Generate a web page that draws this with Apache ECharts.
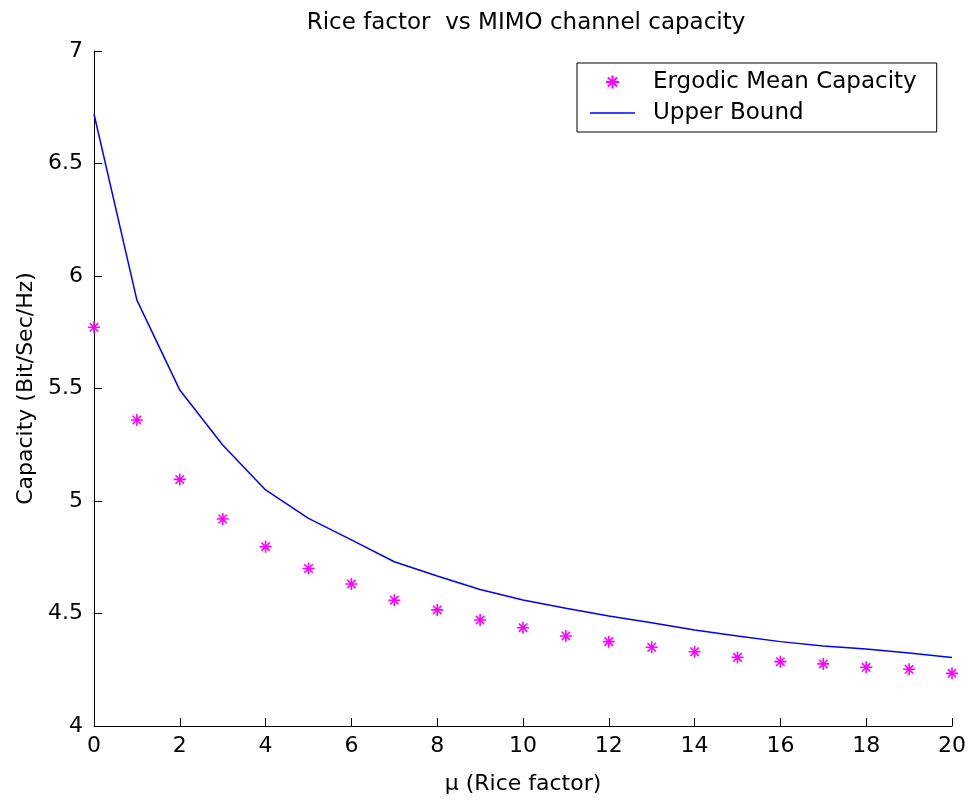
<!DOCTYPE html>
<html>
<head>
<meta charset="utf-8">
<script src="https://cdn.jsdelivr.net/npm/echarts@6/dist/echarts.min.js"></script>
<style>
html,body{margin:0;padding:0;background:#fff;}
#chart{width:970px;height:802px;}
</style>
</head>
<body>
<div id="chart"></div>
<script>
var riceFactor = [0,1,2,3,4,5,6,7,8,9,10,11,12,13,14,15,16,17,18,19,20];
var ergodicMean = [5.772,5.360,5.096,4.920,4.797,4.700,4.631,4.559,4.516,4.471,4.437,4.400,4.375,4.350,4.330,4.305,4.286,4.276,4.261,4.252,4.234];
var upperBound = [6.72,5.893,5.493,5.249,5.049,4.923,4.827,4.730,4.667,4.607,4.560,4.523,4.489,4.459,4.427,4.400,4.375,4.356,4.342,4.324,4.304];
var yTickLabels = ['4','4.5','5','5.5','6','6.5','7'];
var xTickLabels = ['0','2','4','6','8','10','12','14','16','18','20'];

var FONT = 'DejaVu Sans';
var star = 'path://M0,5 L10,5 M5,0 L5,10 M1.5,1.5 L8.5,8.5 M8.5,1.5 L1.5,8.5';
var lineIcon = 'path://M0,0 L45,0 L45,1.5 L0,1.5 Z';

var chart = echarts.init(document.getElementById('chart'), null, {renderer:'canvas'});
chart.setOption({
  animation: false,
  backgroundColor: '#ffffff',
  textStyle: {fontFamily: FONT, color: '#000'},
  title: {
    text: 'Rice factor  vs MIMO channel capacity',
    left: 521, textAlign: 'center', top: 7,
    textStyle: {fontFamily: FONT, fontSize: 23, fontWeight: 'normal', color: '#000'}
  },
  grid: {left: 94, right: 18, top: 51, bottom: 76, containLabel: false},
  legend: {
    orient: 'vertical',
    left: 577, top: 63,
    backgroundColor: '#fff',
    borderColor: '#000', borderWidth: 1,
    padding: [6, 20, 6, 13],
    itemGap: 5,
    itemWidth: 45, itemHeight: 13,
    symbolKeepAspect: true,
    textStyle: {fontFamily: FONT, fontSize: 23, color: '#000', lineHeight: 26, padding: [0,0,0,13]},
    data: [
      {name: 'Ergodic Mean Capacity', icon: star},
      {name: 'Upper Bound', icon: lineIcon}
    ]
  },
  xAxis: {
    type: 'value', min: 0, max: 20, interval: 2,
    name: 'μ (Rice factor)', nameLocation: 'middle', nameGap: 47,
    nameTextStyle: {fontFamily: FONT, fontSize: 22, color: '#000'},
    axisLine: {show: true, onZero: false, lineStyle: {color: '#000', width: 1}},
    axisTick: {show: true, inside: true, length: 8, lineStyle: {color: '#000'}},
    axisLabel: {fontFamily: FONT, fontSize: 22, color: '#000', margin: 9,
      formatter: function(v){ var i = Math.round(v/2); return xTickLabels[i]; }},
    splitLine: {show: false}
  },
  yAxis: {
    type: 'value', min: 4, max: 7, interval: 0.5,
    name: 'Capacity (Bit/Sec/Hz)', nameLocation: 'middle', nameGap: 56,
    nameTextStyle: {fontFamily: FONT, fontSize: 22, color: '#000'},
    axisLine: {show: true, onZero: false, lineStyle: {color: '#000', width: 1}},
    axisTick: {show: true, inside: true, length: 8, lineStyle: {color: '#000'}},
    axisLabel: {fontFamily: FONT, fontSize: 22, color: '#000', margin: 11,
      formatter: function(v){ var i = Math.round((v-4)/0.5); return yTickLabels[i]; }},
    splitLine: {show: false}
  },
  series: [
    {
      name: 'Ergodic Mean Capacity',
      type: 'scatter',
      symbol: star,
      symbolSize: 12,
      itemStyle: {color: '#ff00ff', borderColor: '#ff00ff', borderWidth: 1.6, opacity: 1},
      data: riceFactor.map(function(x,i){ return [x, ergodicMean[i]]; }),
      z: 3
    },
    {
      name: 'Upper Bound',
      type: 'line',
      symbol: 'none',
      lineStyle: {color: '#0000ff', width: 1.5},
      itemStyle: {color: '#0000ff'},
      data: riceFactor.map(function(x,i){ return [x, upperBound[i]]; }),
      z: 2
    }
  ]
});
</script>
</body>
</html>
